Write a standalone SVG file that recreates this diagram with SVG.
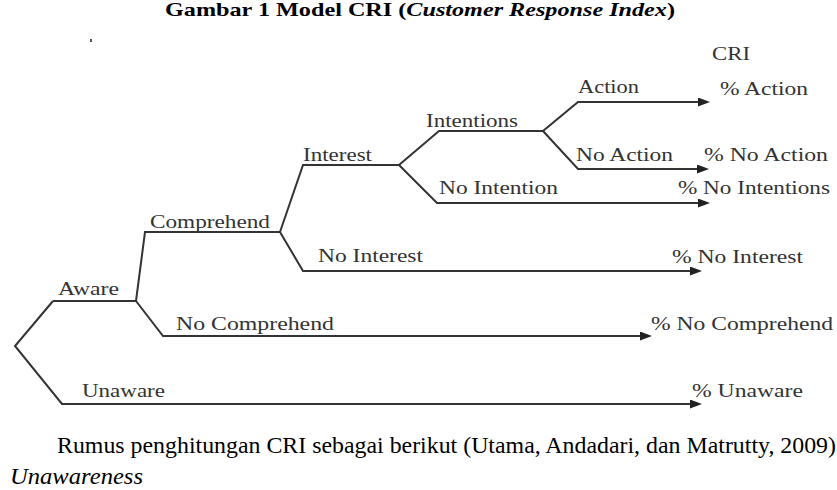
<svg xmlns="http://www.w3.org/2000/svg" width="837" height="490" viewBox="0 0 837 490">
<style>
.lbl{font-family:"Liberation Serif","Times New Roman",serif;font-size:19px;fill:#333;}
.edge{fill:none;stroke:#333;stroke-width:2;stroke-linejoin:miter;}
.title{font-family:"Liberation Serif","Times New Roman",serif;font-size:19px;font-weight:bold;fill:#000;}
.body{font-family:"Liberation Serif","Times New Roman",serif;font-size:23px;fill:#000;}
</style>
<defs>
<marker id="arr" viewBox="0 0 12 9" markerWidth="12" markerHeight="9" refX="6" refY="4.5" orient="auto" markerUnits="userSpaceOnUse">
<path d="M0,0 L12,4.5 L0,9 z" fill="#222"/>
</marker>
</defs>
<rect width="837" height="490" fill="#fff"/>
<text class="title" x="165" y="16" textLength="510" lengthAdjust="spacingAndGlyphs">Gambar 1  Model CRI (<tspan font-style="italic">Customer Response Index</tspan>)</text>
<rect x="90" y="39" width="2" height="3" fill="#555"/>

<g id="connectors">
<path class="edge" d="M53,301 L15,346 L62,404 H696" marker-end="url(#arr)"/>
<path class="edge" d="M53,301 H136"/>
<path class="edge" d="M136,301 L145,232 H280"/>
<path class="edge" d="M136,301 L163,336 H646" marker-end="url(#arr)"/>
<path class="edge" d="M280,232 L303,165 H399"/>
<path class="edge" d="M280,232 L303,271 H696" marker-end="url(#arr)"/>
<path class="edge" d="M399,165 L439,131 H543"/>
<path class="edge" d="M399,165 L437,203 H704" marker-end="url(#arr)"/>
<path class="edge" d="M543,131 L578,102 H704" marker-end="url(#arr)"/>
<path class="edge" d="M543,131 L578,169 H703" marker-end="url(#arr)"/>
</g>

<g id="aware"><text class="lbl" x="58" y="295" textLength="61" lengthAdjust="spacingAndGlyphs">Aware</text></g>
<g id="unaware"><text class="lbl" x="82" y="397" textLength="83" lengthAdjust="spacingAndGlyphs">Unaware</text></g>
<g id="comprehend"><text class="lbl" x="150" y="228" textLength="120" lengthAdjust="spacingAndGlyphs">Comprehend</text></g>
<g id="no-comprehend"><text class="lbl" x="176" y="330" textLength="158" lengthAdjust="spacingAndGlyphs">No Comprehend</text></g>
<g id="interest"><text class="lbl" x="303" y="161" textLength="69" lengthAdjust="spacingAndGlyphs">Interest</text></g>
<g id="no-interest"><text class="lbl" x="318" y="262" textLength="105" lengthAdjust="spacingAndGlyphs">No Interest</text></g>
<g id="intentions"><text class="lbl" x="426" y="127" textLength="92" lengthAdjust="spacingAndGlyphs">Intentions</text></g>
<g id="no-intention"><text class="lbl" x="439" y="194" textLength="119" lengthAdjust="spacingAndGlyphs">No Intention</text></g>
<g id="action"><text class="lbl" x="578" y="93" textLength="61" lengthAdjust="spacingAndGlyphs">Action</text></g>
<g id="no-action"><text class="lbl" x="576" y="161" textLength="97" lengthAdjust="spacingAndGlyphs">No Action</text></g>

<g id="cri-header"><text class="lbl" x="712" y="60" textLength="38" lengthAdjust="spacingAndGlyphs">CRI</text></g>
<g id="pct-action"><text class="lbl" x="720" y="95" textLength="88" lengthAdjust="spacingAndGlyphs">% Action</text></g>
<g id="pct-no-action"><text class="lbl" x="704" y="161" textLength="124" lengthAdjust="spacingAndGlyphs">% No Action</text></g>
<g id="pct-no-intentions"><text class="lbl" x="678" y="194" textLength="152" lengthAdjust="spacingAndGlyphs">% No Intentions</text></g>
<g id="pct-no-interest"><text class="lbl" x="672" y="263" textLength="131" lengthAdjust="spacingAndGlyphs">% No Interest</text></g>
<g id="pct-no-comprehend"><text class="lbl" x="651" y="330" textLength="182" lengthAdjust="spacingAndGlyphs">% No Comprehend</text></g>
<g id="pct-unaware"><text class="lbl" x="692" y="397" textLength="111" lengthAdjust="spacingAndGlyphs">% Unaware</text></g>

<text class="body" x="57" y="453" textLength="779" lengthAdjust="spacingAndGlyphs">Rumus penghitungan CRI sebagai berikut (Utama, Andadari, dan Matrutty, 2009)</text>
<text class="body" x="10" y="484" font-style="italic" textLength="133" lengthAdjust="spacingAndGlyphs">Unawareness</text>
</svg>
